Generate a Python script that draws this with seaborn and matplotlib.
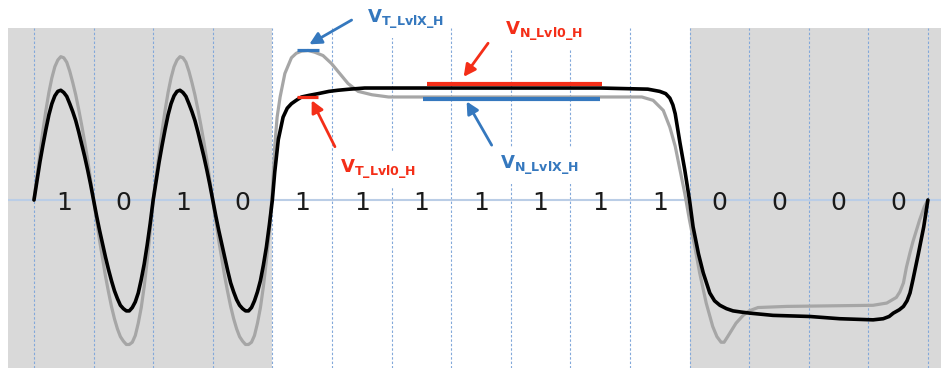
import matplotlib
matplotlib.use("Agg")
import matplotlib.pyplot as plt
import seaborn as sns
import pandas as pd

# ---- data -------------------------------------------------------------
bit_values = ["1", "0", "1", "0", "1", "1", "1", "1", "1", "1", "1", "0", "0", "0", "0"]

# shaded unit intervals (in bit units)
shade_from = [-0.44, 11.0]
shade_to = [4.0, 15.22]

# black trace: time in UI, normalised amplitude
black_t = [0.00, 0.05, 0.10, 0.15, 0.20, 0.25, 0.30, 0.35, 0.40, 0.45, 0.50, 0.55, 0.60,
           0.65, 0.70, 0.75, 0.80, 0.85, 0.90, 0.95,
           1.00, 1.05, 1.10, 1.15, 1.20, 1.25, 1.30, 1.35, 1.40, 1.45, 1.50, 1.55, 1.60,
           1.65, 1.70, 1.75, 1.80, 1.85, 1.90, 1.95,
           2.00, 2.05, 2.10, 2.15, 2.20, 2.25, 2.30, 2.35, 2.40, 2.45, 2.50, 2.55, 2.60,
           2.65, 2.70, 2.75, 2.80, 2.85, 2.90, 2.95,
           3.00, 3.05, 3.10, 3.15, 3.20, 3.25, 3.30, 3.35, 3.40, 3.45, 3.50, 3.55, 3.60,
           3.65, 3.70, 3.75, 3.80, 3.85, 3.90, 3.95,
           4.00, 4.04, 4.10, 4.18, 4.25, 4.32, 4.40, 4.49, 4.62, 4.77, 4.95, 5.10, 5.30,
           5.55, 6.50, 8.00, 9.50,
           10.30, 10.50, 10.60, 10.67, 10.72, 10.76, 10.84, 10.92,
           11.00, 11.06, 11.15, 11.23, 11.34, 11.42, 11.51, 11.62, 11.73, 11.86, 12.01,
           12.40, 13.02, 13.52, 14.08, 14.25, 14.35, 14.42, 14.52, 14.59, 14.65, 14.70,
           14.75, 14.84, 14.93, 15.00]
black_v = [0.00, 0.17, 0.34, 0.49, 0.63, 0.76, 0.86, 0.93, 0.97, 0.98, 0.96, 0.925, 0.86,
           0.79, 0.71, 0.61, 0.50, 0.39, 0.27, 0.14,
           0.00, -0.14, -0.27, -0.39, -0.51, -0.62, -0.72, -0.81, -0.88, -0.94, -0.97, -0.99, -0.99,
           -0.96, -0.91, -0.83, -0.71, -0.57, -0.40, -0.21,
           0.00, 0.17, 0.34, 0.49, 0.63, 0.76, 0.86, 0.93, 0.97, 0.98, 0.96, 0.925, 0.86,
           0.79, 0.71, 0.61, 0.50, 0.39, 0.27, 0.14,
           0.00, -0.14, -0.27, -0.39, -0.51, -0.63, -0.74, -0.82, -0.89, -0.94, -0.97, -0.99, -0.99,
           -0.96, -0.90, -0.82, -0.72, -0.58, -0.42, -0.22,
           0.00, 0.25, 0.54, 0.74, 0.82, 0.86, 0.89, 0.92, 0.935, 0.95, 0.97, 0.98, 0.99,
           1.00, 1.00, 1.00, 1.00,
           0.99, 0.97, 0.95, 0.91, 0.85, 0.77, 0.51, 0.27,
           0.00, -0.24, -0.48, -0.65, -0.83, -0.90, -0.94, -0.97, -0.99, -1.00, -1.01,
           -1.03, -1.04, -1.06, -1.07, -1.06, -1.04, -1.01, -0.98, -0.95, -0.90, -0.83,
           -0.71, -0.48, -0.24, 0.00]

# gray trace
gray_t = [0.00, 0.05, 0.10, 0.15, 0.20, 0.25, 0.30, 0.35, 0.40, 0.45, 0.50, 0.55, 0.60,
          0.65, 0.70, 0.75, 0.80, 0.85, 0.90, 0.95,
          1.00, 1.05, 1.10, 1.15, 1.20, 1.25, 1.30, 1.35, 1.40, 1.45, 1.50, 1.55, 1.60,
          1.65, 1.70, 1.75, 1.80, 1.85, 1.90, 1.95,
          2.00, 2.05, 2.10, 2.15, 2.20, 2.25, 2.30, 2.35, 2.40, 2.45, 2.50, 2.55, 2.60,
          2.65, 2.70, 2.75, 2.80, 2.85, 2.90, 2.95,
          3.00, 3.05, 3.10, 3.15, 3.20, 3.25, 3.30, 3.35, 3.40, 3.45, 3.50, 3.55, 3.60,
          3.65, 3.70, 3.75, 3.80, 3.85, 3.90, 3.95,
          4.00, 4.04, 4.08, 4.13, 4.21, 4.32, 4.40, 4.49, 4.60, 4.71, 4.85, 4.99, 5.13,
          5.27, 5.44, 5.67, 5.95, 7.00, 9.50, 10.20, 10.39, 10.56, 10.67, 10.76, 10.84,
          10.92, 11.00, 11.09, 11.17, 11.28, 11.39, 11.46, 11.53, 11.58, 11.64, 11.78,
          11.90, 12.00, 12.15, 12.63, 14.08, 14.31, 14.47, 14.53, 14.59, 14.64, 14.70,
          14.75, 14.86, 14.94, 15.00]
gray_v = [0.00, 0.21, 0.42, 0.62, 0.80, 0.96, 1.09, 1.19, 1.25, 1.28, 1.27, 1.23, 1.15,
          1.05, 0.94, 0.81, 0.67, 0.52, 0.36, 0.18,
          0.00, -0.18, -0.36, -0.52, -0.68, -0.82, -0.95, -1.06, -1.15, -1.22, -1.26, -1.29, -1.29,
          -1.27, -1.21, -1.10, -0.96, -0.77, -0.54, -0.28,
          0.00, 0.21, 0.42, 0.62, 0.80, 0.96, 1.09, 1.19, 1.25, 1.28, 1.27, 1.23, 1.15,
          1.05, 0.94, 0.81, 0.67, 0.52, 0.36, 0.18,
          0.00, -0.18, -0.36, -0.52, -0.68, -0.82, -0.95, -1.06, -1.15, -1.22, -1.26, -1.29, -1.29,
          -1.27, -1.21, -1.10, -0.96, -0.77, -0.54, -0.28,
          0.08, 0.48, 0.74, 0.92, 1.13, 1.27, 1.31, 1.33, 1.335, 1.32, 1.29, 1.22, 1.13,
          1.04, 0.97, 0.94, 0.92, 0.92, 0.92, 0.92, 0.89, 0.80, 0.65, 0.48, 0.27,
          0.06, -0.18, -0.42, -0.65, -0.92, -1.13, -1.22, -1.27, -1.27, -1.22, -1.10,
          -1.03, -0.99, -0.96, -0.95, -0.94, -0.92, -0.87, -0.82, -0.74, -0.60, -0.47,
          -0.37, -0.18, -0.06, 0.00]

# level markers
level_names = ["T\\_LvlX\\_H", "T\\_Lvl0\\_H", "N\\_Lvl0\\_H", "N\\_LvlX\\_H"]
level_values = [1.34, 0.92, 1.036, 0.90]
level_start = [4.41, 4.41, 6.59, 6.53]
level_end = [4.78, 4.77, 9.53, 9.50]

# ---- styling ----------------------------------------------------------
sns.set_theme(style="white")
plt.rcParams["font.family"] = ["DejaVu Sans"]

BLUE = "#3578BE"
RED = "#F42E18"

fig = plt.figure(figsize=(9.41, 3.69), dpi=100)
ax = fig.add_axes([8 / 941, 1 / 369, 933 / 941, 340 / 369])
ax.set_xlim(-0.436, 15.22)
ax.set_ylim(-1.5, 1.536)
ax.set_axis_off()

for a, b in zip(shade_from, shade_to):
    ax.axvspan(a, b, color="#D9D9D9", lw=0, zorder=0)

for i in range(len(bit_values) + 1):
    ax.axvline(i, color="#82A8DA", lw=0.8, ls=(0, (2.2, 1.8)), zorder=1)

ax.axhline(0, color="#BACDE6", lw=1.5, zorder=1.5)

for i, b in enumerate(bit_values):
    ax.text(i + 0.5, -0.025, b, ha="center", va="center", fontsize=18,
            color="#1A1A1A", zorder=7)

df_gray = pd.DataFrame({"t": gray_t, "v": gray_v})
df_black = pd.DataFrame({"t": black_t, "v": black_v})
sns.lineplot(data=df_gray, x="t", y="v", ax=ax, color="#A6A6A6", lw=2.3,
             estimator=None, sort=False, zorder=3)
sns.lineplot(data=df_black, x="t", y="v", ax=ax, color="black", lw=2.6,
             estimator=None, sort=False, zorder=4)

level_colors = [BLUE, RED, RED, BLUE]
level_widths = [2.3, 2.3, 3.0, 3.0]
for v, a, b, c, w in zip(level_values, level_start, level_end, level_colors, level_widths):
    ax.plot([a, b], [v, v], color=c, lw=w, solid_capstyle="butt", zorder=5)

# callout arrows (tail -> head)
arrows = [((5.33, 1.607), (4.62, 1.39), BLUE),
          ((7.62, 1.40), (7.21, 1.10), RED),
          ((5.05, 0.476), (4.66, 0.89), RED),
          ((7.68, 0.49), (7.26, 0.88), BLUE)]
for tail, head, c in arrows:
    ax.annotate("", xy=head, xytext=tail, annotation_clip=False,
                arrowprops=dict(arrowstyle="-|>,head_length=0.55,head_width=0.28",
                                color=c, lw=2.0, shrinkA=0, shrinkB=0,
                                mutation_scale=13), zorder=6)

label_pos = [(5.58, 1.577), (5.13, 0.24), (7.90, 1.473), (7.82, 0.274)]
for name, (x, y), c in zip(level_names, label_pos, level_colors):
    ax.text(x, y, r"$\mathbf{V}_{\mathbf{" + name + "}}$", ha="left", va="baseline",
            fontsize=13, color=c, zorder=6, clip_on=False,
            bbox=dict(fc="white", ec="none", pad=5))

fig.savefig("out.png", dpi=100)
